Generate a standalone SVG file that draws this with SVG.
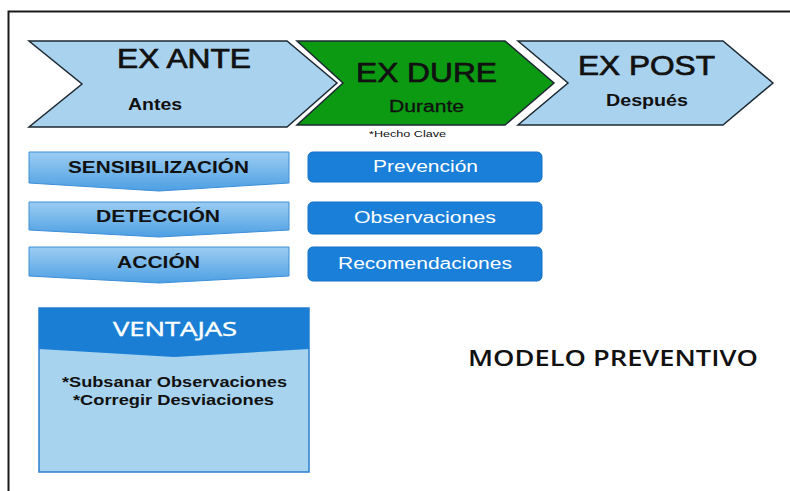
<svg xmlns="http://www.w3.org/2000/svg" width="790" height="491" viewBox="0 0 790 491">
<defs>
<linearGradient id="gDown" x1="0" y1="0" x2="0" y2="1">
<stop offset="0" stop-color="#9ccdf2"/>
<stop offset="1" stop-color="#4d9fe3"/>
</linearGradient>
<style>
.chev{fill:#a9d2ee;stroke:#1d2a33;stroke-width:1.5}
.chevG{fill:#0b9a12;stroke:#1d2a33;stroke-width:1.5}
.big{font-family:"Liberation Sans",Arial,sans-serif;font-size:27px;fill:#111;stroke:#111;stroke-width:0.7}
.sub{font-family:"Liberation Sans",Arial,sans-serif;font-size:16px;font-weight:bold;fill:#111}
.dn{fill:url(#gDown);stroke:#3c8fd8;stroke-width:1}
.dnT{font-family:"Liberation Sans",Arial,sans-serif;font-size:17px;font-weight:bold;fill:#111}
.btn{fill:#1a7fd9;stroke:#1670c4;stroke-width:1}
.btnT{font-family:"Liberation Sans",Arial,sans-serif;font-size:16px;fill:#fff}
.body{font-family:"Liberation Sans",Arial,sans-serif;font-size:15.5px;font-weight:bold;fill:#111}
</style>
</defs>
<rect width="790" height="491" fill="#fff"/>
<path d="M8.5 491 V11.5 H790" fill="none" stroke="#1a1a1a" stroke-width="2"/>

<g id="ex-ante">
<polygon class="chev" points="29,41 287,41 337,83 287,127 29,127 82,84"/>
<text class="big" x="117" y="68" textLength="134" lengthAdjust="spacingAndGlyphs">EX ANTE</text>
<text class="sub" x="128" y="110" textLength="54" lengthAdjust="spacingAndGlyphs">Antes</text>
</g>
<g id="ex-dure">
<polygon class="chevG" points="297,41 505,41 554,83 505,125 297,125 343,83"/>
<text class="big" x="356" y="82" textLength="141" lengthAdjust="spacingAndGlyphs">EX DURE</text>
<text class="sub" x="389" y="112" textLength="75" lengthAdjust="spacingAndGlyphs" style="font-weight:normal;stroke:#111;stroke-width:0.3">Durante</text>
<text x="369" y="137" textLength="77" lengthAdjust="spacingAndGlyphs" style="font-family:'Liberation Sans',Arial,sans-serif;font-size:9px;fill:#111">*Hecho Clave</text>
</g>
<g id="ex-post">
<polygon class="chev" points="518,41 723,41 773,83 723,125 518,125 568,83"/>
<text class="big" x="578" y="75" textLength="137" lengthAdjust="spacingAndGlyphs">EX POST</text>
<text class="sub" x="606" y="106" textLength="82" lengthAdjust="spacingAndGlyphs">Después</text>
</g>

<g id="sensibilizacion">
<polygon class="dn" points="29,152 289,152 289,183 159,191 29,183"/>
<text class="dnT" x="68" y="173" textLength="181" lengthAdjust="spacingAndGlyphs">SENSIBILIZACIÓN</text>
</g>
<g id="deteccion">
<polygon class="dn" points="29,202 289,202 289,230 159,237 29,230"/>
<text class="dnT" x="96" y="222" textLength="124" lengthAdjust="spacingAndGlyphs">DETECCIÓN</text>
</g>
<g id="accion">
<polygon class="dn" points="29,247 289,247 289,276 159,283 29,276"/>
<text class="dnT" x="117" y="268" textLength="83" lengthAdjust="spacingAndGlyphs">ACCIÓN</text>
</g>

<g id="prevencion">
<rect class="btn" x="308" y="152" width="234" height="30" rx="5"/>
<text class="btnT" x="373" y="172" textLength="105" lengthAdjust="spacingAndGlyphs">Prevención</text>
</g>
<g id="observaciones">
<rect class="btn" x="308" y="202" width="234" height="32" rx="5"/>
<text class="btnT" x="354" y="223" textLength="142" lengthAdjust="spacingAndGlyphs">Observaciones</text>
</g>
<g id="recomendaciones">
<rect class="btn" x="308" y="247" width="234" height="34" rx="5"/>
<text class="btnT" x="338" y="269" textLength="174" lengthAdjust="spacingAndGlyphs">Recomendaciones</text>
</g>

<g id="ventajas">
<rect x="39" y="308" width="270" height="164" fill="#a7d3ef" stroke="#2a80d0" stroke-width="1.5"/>
<polygon points="39,308 309,308 309,349 174,357 39,349" fill="#1a7fd4"/>
<text x="113" y="336" textLength="124" lengthAdjust="spacingAndGlyphs" style="font-family:'Open Sans','Noto Sans',sans-serif;font-size:20px;fill:#fff;stroke:#fff;stroke-width:0.4">VENTAJAS</text>
<text class="body" x="62" y="387" textLength="225" lengthAdjust="spacingAndGlyphs">*Subsanar Observaciones</text>
<text class="body" x="73" y="405" textLength="201" lengthAdjust="spacingAndGlyphs">*Corregir Desviaciones</text>
</g>

<g id="titulo">
<text x="468" y="366" textLength="290" lengthAdjust="spacingAndGlyphs" style="font-family:'Open Sans','Noto Sans',sans-serif;font-size:21px;font-weight:600;fill:#111">MODELO PREVENTIVO</text>
</g>
</svg>
